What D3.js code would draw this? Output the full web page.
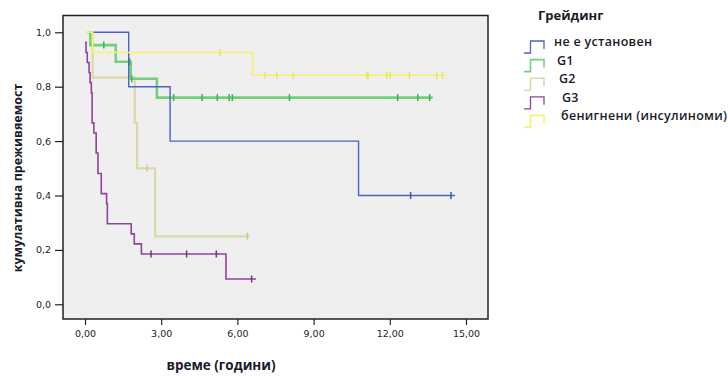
<!DOCTYPE html>
<html>
<head>
<meta charset="utf-8">
<script src="https://cdn.jsdelivr.net/npm/d3@7"></script>
<style>
	body { margin: 0; background: #fff; }
	svg { display: block; }
</style>
</head>
<body>
<div id="container"></div>
<script>
var groups = ["не е установен", "G1", "G2", "G3", "бенигнени (инсулиноми)"];

// [time, survival] - first entry is the start, the rest are drops
var blueSteps = [[0.33, 1.0], [1.72, 0.8], [3.35, 0.6], [10.77, 0.4]];
var blueEnd = 14.57;
var blueCensor = [12.82, 14.41];

var greenSteps = [[0.18, 1.0], [0.21, 0.953], [1.21, 0.892], [1.80, 0.829], [2.83, 0.76]];
var greenEnd = 13.69;
var greenCensor = [0.74, 1.76, 1.84, 3.49, 4.61, 5.21, 5.68, 5.80, 8.05, 12.31, 13.10, 13.57];

var tanSteps = [[0.04, 1.0], [0.30, 0.833], [1.96, 0.667], [2.05, 0.5], [2.76, 0.25]];
var tanEnd = 6.5;
var tanCensor = [2.44, 6.39];

var purpleSteps = [[0.0, 0.963], [0.04, 0.926], [0.09, 0.889], [0.16, 0.852], [0.20, 0.815],
	[0.25, 0.778], [0.28, 0.667], [0.35, 0.630], [0.44, 0.556], [0.51, 0.481], [0.64, 0.407],
	[0.85, 0.370], [0.88, 0.296], [1.82, 0.259], [1.94, 0.222], [2.22, 0.185], [5.55, 0.093]];
var purpleEnd = 6.73;
var purpleCensor = [2.60, 4.00, 5.17, 6.56];

var yellowSteps = [[0.04, 1.0], [0.30, 0.926], [6.60, 0.842]];
var yellowEnd = 14.24;
var yellowCensor = [5.31, 7.09, 7.55, 8.20, 11.09, 11.15, 11.88, 12.01, 12.77, 13.85, 14.07];

var xTicks = [0, 3, 6, 9, 12, 15];
var yTicks = [0, 0.2, 0.4, 0.6, 0.8, 1.0];

var w = 728, h = 376;
var vis = d3.select("div#container").append("svg")
	.attr("width", w)
	.attr("height", h);

var box = {left: 63, right: 488, top: 15.5, bottom: 319};
var x = d3.scaleLinear().domain([0, 15]).range([85, 466]);
var y = d3.scaleLinear().domain([0, 1]).range([304.3, 32.3]);

vis.append("rect") // plot background
	.attr("x", box.left).attr("y", box.top)
	.attr("width", box.right - box.left).attr("height", box.bottom - box.top)
	.attr("fill", "#efefef")
	.attr("stroke", "#222")
	.attr("stroke-width", 1.5);

var fmtY = function(d) { return d3.format(".1f")(d).replace(".", ","); };
var fmtX = function(d) { return d3.format(".2f")(d).replace(".", ","); };

var yAxis = vis.append("g")
	.attr("transform", "translate(" + box.left + ",0)")
	.call(d3.axisLeft(y).tickValues(yTicks).tickSize(8).tickPadding(4).tickFormat(fmtY));
var xAxis = vis.append("g")
	.attr("transform", "translate(0," + box.bottom + ")")
	.call(d3.axisBottom(x).tickValues(xTicks).tickSize(6).tickPadding(5).tickFormat(fmtX));
[yAxis, xAxis].forEach(function(a) {
	a.select(".domain").remove();
	a.selectAll("line").attr("stroke", "#222").attr("stroke-width", 1.2);
	a.selectAll("text").attr("font-family", "DejaVu Sans").attr("font-size", "9.5px").attr("fill", "#222");
});

var series = [
	{steps: blueSteps, end: blueEnd, censor: blueCensor, color: "#4a63c4", tick: "#3a55b8", width: 1.4},
	{steps: greenSteps, end: greenEnd, censor: greenCensor, color: "#74d07f", tick: "#3eb050", width: 2.6},
	{steps: tanSteps, end: tanEnd, censor: tanCensor, color: "#ddd7aa", tick: "#cfc894", width: 2.2},
	{steps: purpleSteps, end: purpleEnd, censor: purpleCensor, color: "#8e449c", tick: "#7a2f8a", width: 1.6},
	{steps: yellowSteps, end: yellowEnd, censor: yellowCensor, color: "#f7f26a", tick: "#ece45a", width: 1.6}
];
// drawing order: tan under yellow
var order = [2, 1, 0, 3, 4];

function survAt(steps, t) { // value of the step function at time t
	var s = steps[0][1];
	for (var i = 0; i < steps.length; i++) {
		if (steps[i][0] <= t) { s = steps[i][1]; }
	}
	return s;
}

order.forEach(function(k) {
	var d = series[k];
	var pts = d.steps.concat([[d.end, d.steps[d.steps.length - 1][1]]]);
	vis.append("path")
		.datum(pts)
		.attr("fill", "none")
		.attr("stroke", d.color)
		.attr("stroke-width", d.width)
		.attr("d", d3.line().x(function(p) { return x(p[0]); }).y(function(p) { return y(p[1]); }).curve(d3.curveStepAfter));
	vis.selectAll(null)
		.data(d.censor)
		.enter().append("line")
		.attr("x1", function(t) { return x(t); })
		.attr("x2", function(t) { return x(t); })
		.attr("y1", function(t) { return y(survAt(d.steps, t)) - 3.5; })
		.attr("y2", function(t) { return y(survAt(d.steps, t)) + 3.5; })
		.attr("stroke", d.tick)
		.attr("stroke-width", 1.5);
});

// axis titles
vis.append("text")
	.attr("transform", "translate(22,178) rotate(-90)")
	.attr("text-anchor", "middle")
	.attr("font-family", "Open Sans")
	.attr("font-weight", "bold")
	.attr("font-size", "12.5px")
	.attr("fill", "#1a1a2a")
	.text("кумулативна преживяемост");
vis.append("text")
	.attr("x", 221).attr("y", 370)
	.attr("text-anchor", "middle")
	.attr("font-family", "Open Sans")
	.attr("font-weight", "bold")
	.attr("font-size", "13.5px")
	.attr("fill", "#1a1a2a")
	.text("време (години)");

// legend
var legend = vis.append("g");
legend.append("text")
	.attr("x", 538).attr("y", 20)
	.attr("font-family", "Open Sans")
	.attr("font-weight", "bold")
	.attr("font-size", "13px")
	.attr("fill", "#1a1a2a")
	.text("Грейдинг");
var legX = [554, 557, 559, 562, 561];
groups.forEach(function(g, i) {
	var top = 41 + i * 18.6;
	legend.append("path")
		.attr("d", "M524," + (top + 12) + "H530.5V" + top + "H544V" + (top + 8))
		.attr("fill", "none")
		.attr("stroke", series[i].color)
		.attr("stroke-width", i == 0 || i == 3 ? 1.3 : 1.6);
	legend.append("text")
		.attr("x", legX[i]).attr("y", top + 5)
		.attr("font-family", "Open Sans")
		.attr("font-weight", "600")
		.attr("font-size", "12.5px")
		.attr("letter-spacing", "0.3px")
		.attr("fill", "#1a1a2a")
		.text(g);
});
</script>
</body>
</html>
